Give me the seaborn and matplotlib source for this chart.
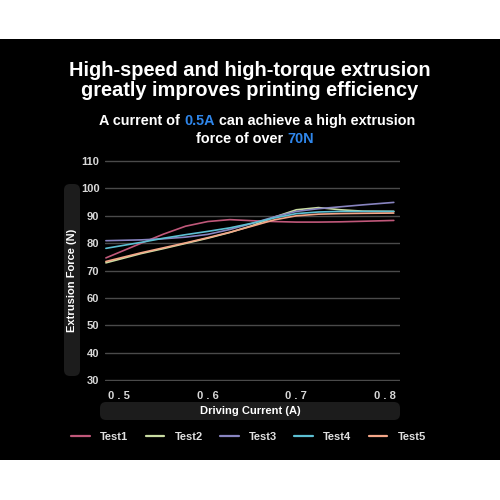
import numpy as np
import pandas as pd
import seaborn as sns
import matplotlib.pyplot as plt
from matplotlib.patches import FancyBboxPatch, Rectangle

# values
currentA = [0.485, 0.525, 0.55, 0.575, 0.6, 0.625, 0.65, 0.675, 0.7, 0.725, 0.75, 0.775, 0.81]
test1 = [74.6, 80.0, 83.3, 86.2, 87.9, 88.6, 88.2, 87.9, 87.7, 87.7, 87.8, 88.0, 88.3]
test2 = [72.8, 76.2, 78.0, 79.9, 81.8, 83.9, 86.4, 89.5, 92.2, 93.0, 92.2, 91.7, 91.6]
test3 = [80.9, 81.2, 81.6, 82.2, 83.2, 85.0, 87.2, 89.6, 91.6, 92.6, 93.3, 94.0, 94.9]
test4 = [78.1, 80.3, 81.8, 83.1, 84.3, 85.6, 87.3, 89.2, 90.8, 91.4, 91.6, 91.6, 91.6]
test5 = [73.3, 76.5, 78.3, 80.1, 82.0, 84.0, 86.2, 88.5, 90.0, 90.6, 90.8, 90.9, 91.0]
testNames = ['Test1', 'Test2', 'Test3', 'Test4', 'Test5']
testColors = ['#c0587a', '#c9dca2', '#8884c0', '#5cbfd2', '#f4a688']
xTicks = [0.5, 0.6, 0.7, 0.8]
yTicks = [30, 40, 50, 60, 70, 80, 90, 100, 110]

dfTests = pd.DataFrame({'Current': currentA, 'Test1': test1, 'Test2': test2,
                        'Test3': test3, 'Test4': test4, 'Test5': test5})
dfMelted = dfTests.melt(id_vars=['Current'], var_name='Test', value_name='Force')

sns.set_style('dark')
plt.rcParams['font.family'] = ['Liberation Sans', 'DejaVu Sans']
plt.rcParams['font.weight'] = 'bold'

fig = plt.figure(figsize=(5, 5), dpi=100)
fig.patch.set_facecolor('white')
fig.patches.append(Rectangle((0, 0.08), 1, 0.842, transform=fig.transFigure,
                             facecolor='black', edgecolor='none', zorder=-2))

ax = fig.add_axes([0.21, 0.238, 0.59, 0.442])
ax.set_facecolor('black')
sns.lineplot(data=dfMelted, x='Current', y='Force', hue='Test',
             palette=dict(zip(testNames, testColors)), linewidth=1.2, ax=ax)
ax.set_xlim(0.484, 0.817)
ax.set_ylim(29.6, 110.4)
ax.set_yticks(yTicks)
ax.set_xticks(xTicks)
ax.set_xticklabels(['0 . 5', '0 . 6', '0 . 7', '0 . 8'])
ax.grid(axis='y', color='#4a4a4a', linewidth=1)
ax.grid(axis='x', visible=False)
for s in ax.spines.values():
    s.set_visible(False)
ax.tick_params(colors='#d8d8d8', labelsize=8, length=0)
ax.tick_params(axis='y', pad=4)
ax.tick_params(axis='x', pad=7)
ax.set_xlabel('')
ax.set_ylabel('')
ax.get_legend().remove()

# axis label boxes
fig.patches.append(FancyBboxPatch((0.128, 0.248), 0.032, 0.384, boxstyle='round,pad=0,rounding_size=0.012',
                                  transform=fig.transFigure, facecolor='#1c1c1c', edgecolor='none',
                                  zorder=-1))
fig.text(0.144, 0.44, 'Extrusion Force (N)', rotation=90, ha='center', va='center',
         color='white', fontsize=8)
fig.patches.append(FancyBboxPatch((0.2, 0.16), 0.6, 0.036, boxstyle='round,pad=0,rounding_size=0.012',
                                  transform=fig.transFigure, facecolor='#1c1c1c', edgecolor='none',
                                  zorder=-1))
fig.text(0.5, 0.178, 'Driving Current (A)', ha='center', va='center', color='white', fontsize=8)

# titles
fig.text(0.5, 0.858, 'High-speed and high-torque extrusion', ha='center', va='center',
         color='white', fontsize=14.4)
fig.text(0.5, 0.818, 'greatly improves printing efficiency', ha='center', va='center',
         color='white', fontsize=14.4)

renderer = fig.canvas.get_renderer()


def textWidth(s, size):
    t = fig.text(0, 0, s + '|', fontsize=size)
    t2 = fig.text(0, 0, '|', fontsize=size)
    w = t.get_window_extent(renderer).width - t2.get_window_extent(renderer).width
    t.remove()
    t2.remove()
    return w / fig.bbox.width


def coloredLine(y, parts, size, cx=0.5):
    widths = [textWidth(p, size) for p, c in parts]
    x = cx - sum(widths) / 2
    for (p, c), w in zip(parts, widths):
        fig.text(x, y, p, ha='left', va='center', color=c, fontsize=size)
        x += w


blue = '#2f86ea'
coloredLine(0.758, [('A current of ', 'white'), ('0.5A', blue),
                    (' can achieve a high extrusion', 'white')], 10.4, cx=0.514)
coloredLine(0.722, [('force of over ', 'white'), ('70N', blue)], 10.4, cx=0.51)

handles = [plt.Line2D([], [], color=c, linewidth=1.6) for c in testColors]
fig.legend(handles, testNames, loc='center', bbox_to_anchor=(0.497, 0.126), ncol=5,
           frameon=False, fontsize=8, labelcolor='#e0e0e0', handlelength=1.7,
           columnspacing=1.55, handletextpad=0.9)

fig.savefig('out.png', dpi=100, facecolor='white')
